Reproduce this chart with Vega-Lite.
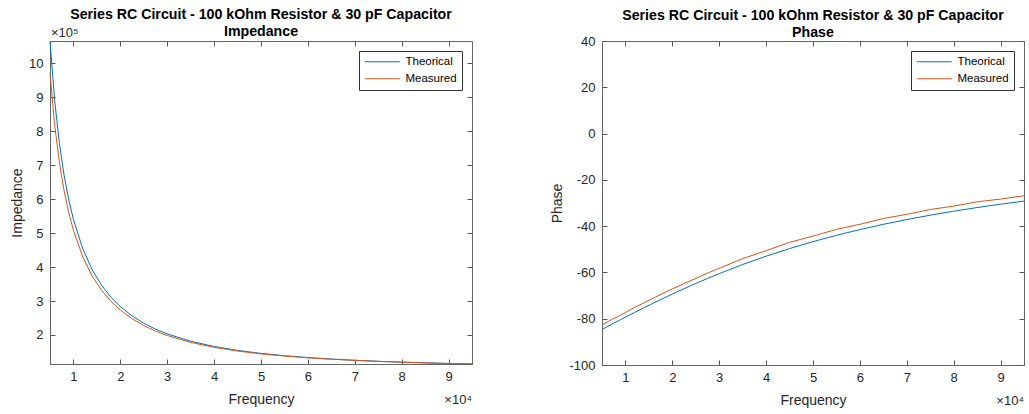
{
  "$schema": "https://vega.github.io/schema/vega-lite/v6.json",
  "padding": {"left": 10, "top": 7, "right": 5, "bottom": 5},
  "spacing": 75,
  "datasets": {
    "imp": [
      {"f": 5000, "Z": 1065735, "s": "Theorical"},
      {"f": 6000, "Z": 889831, "s": "Theorical"},
      {"f": 7000, "Z": 764449, "s": "Theorical"},
      {"f": 8000, "Z": 670642, "s": "Theorical"},
      {"f": 9000, "Z": 597884, "s": "Theorical"},
      {"f": 10000, "Z": 539858, "s": "Theorical"},
      {"f": 12000, "Z": 453266, "s": "Theorical"},
      {"f": 14000, "Z": 391914, "s": "Theorical"},
      {"f": 16000, "Z": 346324, "s": "Theorical"},
      {"f": 18000, "Z": 311234, "s": "Theorical"},
      {"f": 20000, "Z": 283482, "s": "Theorical"},
      {"f": 22500, "Z": 256114, "s": "Theorical"},
      {"f": 25000, "Z": 234588, "s": "Theorical"},
      {"f": 27500, "Z": 217293, "s": "Theorical"},
      {"f": 30000, "Z": 203155, "s": "Theorical"},
      {"f": 35000, "Z": 181591, "s": "Theorical"},
      {"f": 40000, "Z": 166104, "s": "Theorical"},
      {"f": 45000, "Z": 154592, "s": "Theorical"},
      {"f": 50000, "Z": 145801, "s": "Theorical"},
      {"f": 55000, "Z": 138939, "s": "Theorical"},
      {"f": 60000, "Z": 133484, "s": "Theorical"},
      {"f": 65000, "Z": 129080, "s": "Theorical"},
      {"f": 70000, "Z": 125474, "s": "Theorical"},
      {"f": 75000, "Z": 122489, "s": "Theorical"},
      {"f": 80000, "Z": 119990, "s": "Theorical"},
      {"f": 85000, "Z": 117879, "s": "Theorical"},
      {"f": 90000, "Z": 116080, "s": "Theorical"},
      {"f": 95000, "Z": 114536, "s": "Theorical"},
      {"f": 5000, "Z": 969819, "s": "Measured"},
      {"f": 6000, "Z": 818645, "s": "Measured"},
      {"f": 7000, "Z": 708644, "s": "Measured"},
      {"f": 8000, "Z": 625038, "s": "Measured"},
      {"f": 9000, "Z": 560217, "s": "Measured"},
      {"f": 10000, "Z": 508006, "s": "Measured"},
      {"f": 12000, "Z": 429696, "s": "Measured"},
      {"f": 14000, "Z": 373494, "s": "Measured"},
      {"f": 16000, "Z": 331432, "s": "Measured"},
      {"f": 18000, "Z": 299096, "s": "Measured"},
      {"f": 20000, "Z": 273277, "s": "Measured"},
      {"f": 22500, "Z": 247918, "s": "Measured"},
      {"f": 25000, "Z": 227785, "s": "Measured"},
      {"f": 27500, "Z": 211643, "s": "Measured"},
      {"f": 30000, "Z": 198482, "s": "Measured"},
      {"f": 35000, "Z": 178141, "s": "Measured"},
      {"f": 40000, "Z": 163612, "s": "Measured"},
      {"f": 45000, "Z": 152737, "s": "Measured"},
      {"f": 50000, "Z": 144489, "s": "Measured"},
      {"f": 55000, "Z": 137966, "s": "Measured"},
      {"f": 60000, "Z": 132817, "s": "Measured"},
      {"f": 65000, "Z": 128564, "s": "Measured"},
      {"f": 70000, "Z": 125098, "s": "Measured"},
      {"f": 75000, "Z": 122244, "s": "Measured"},
      {"f": 80000, "Z": 119870, "s": "Measured"},
      {"f": 85000, "Z": 117761, "s": "Measured"},
      {"f": 90000, "Z": 116080, "s": "Measured"},
      {"f": 95000, "Z": 114600, "s": "Measured"}
    ],
    "ph": [
      {"f": 5000, "P": -84.616, "s": "Theorical"},
      {"f": 6000, "P": -83.547, "s": "Theorical"},
      {"f": 7000, "P": -82.483, "s": "Theorical"},
      {"f": 8000, "P": -81.425, "s": "Theorical"},
      {"f": 9000, "P": -80.372, "s": "Theorical"},
      {"f": 10000, "P": -79.325, "s": "Theorical"},
      {"f": 12000, "P": -77.254, "s": "Theorical"},
      {"f": 14000, "P": -75.217, "s": "Theorical"},
      {"f": 16000, "P": -73.217, "s": "Theorical"},
      {"f": 18000, "P": -71.258, "s": "Theorical"},
      {"f": 20000, "P": -69.344, "s": "Theorical"},
      {"f": 22500, "P": -67.017, "s": "Theorical"},
      {"f": 25000, "P": -64.768, "s": "Theorical"},
      {"f": 27500, "P": -62.599, "s": "Theorical"},
      {"f": 30000, "P": -60.512, "s": "Theorical"},
      {"f": 35000, "P": -56.584, "s": "Theorical"},
      {"f": 40000, "P": -52.984, "s": "Theorical"},
      {"f": 45000, "P": -49.693, "s": "Theorical"},
      {"f": 50000, "P": -46.695, "s": "Theorical"},
      {"f": 55000, "P": -43.967, "s": "Theorical"},
      {"f": 60000, "P": -41.483, "s": "Theorical"},
      {"f": 65000, "P": -39.221, "s": "Theorical"},
      {"f": 70000, "P": -37.157, "s": "Theorical"},
      {"f": 75000, "P": -35.272, "s": "Theorical"},
      {"f": 80000, "P": -33.55, "s": "Theorical"},
      {"f": 85000, "P": -31.97, "s": "Theorical"},
      {"f": 90000, "P": -30.518, "s": "Theorical"},
      {"f": 95000, "P": -29.18, "s": "Theorical"},
      {"f": 5000, "P": -82.72, "s": "Measured"},
      {"f": 6000, "P": -81.6, "s": "Measured"},
      {"f": 7000, "P": -80.45, "s": "Measured"},
      {"f": 8000, "P": -79.43, "s": "Measured"},
      {"f": 9000, "P": -78.45, "s": "Measured"},
      {"f": 10000, "P": -77.33, "s": "Measured"},
      {"f": 12000, "P": -75.05, "s": "Measured"},
      {"f": 14000, "P": -73.12, "s": "Measured"},
      {"f": 16000, "P": -71.12, "s": "Measured"},
      {"f": 18000, "P": -69.0, "s": "Measured"},
      {"f": 20000, "P": -67.14, "s": "Measured"},
      {"f": 22500, "P": -64.82, "s": "Measured"},
      {"f": 25000, "P": -62.6, "s": "Measured"},
      {"f": 27500, "P": -60.3, "s": "Measured"},
      {"f": 30000, "P": -58.21, "s": "Measured"},
      {"f": 35000, "P": -54.05, "s": "Measured"},
      {"f": 40000, "P": -50.6, "s": "Measured"},
      {"f": 45000, "P": -47.0, "s": "Measured"},
      {"f": 50000, "P": -44.3, "s": "Measured"},
      {"f": 55000, "P": -41.4, "s": "Measured"},
      {"f": 60000, "P": -39.2, "s": "Measured"},
      {"f": 65000, "P": -36.7, "s": "Measured"},
      {"f": 70000, "P": -34.9, "s": "Measured"},
      {"f": 75000, "P": -32.8, "s": "Measured"},
      {"f": 80000, "P": -31.35, "s": "Measured"},
      {"f": 85000, "P": -29.5, "s": "Measured"},
      {"f": 90000, "P": -28.3, "s": "Measured"},
      {"f": 95000, "P": -26.88, "s": "Measured"}
    ],
    "one": [{"k": 1}]
  },
  "resolve": {"legend": {"color": "independent"}},
  "hconcat": [
    {
      "width": 422,
      "height": 323,
      "title": {"text": ["Series RC Circuit - 100 kOhm Resistor & 30 pF Capacitor", "Impedance"], "offset": -12},
      "resolve": {"axis": {"x": "independent", "y": "independent"}},
      "layer": [
        {
          "data": {"name": "imp"},
          "mark": {"type": "line", "strokeWidth": 1},
          "encoding": {
            "x": {"field": "f", "type": "quantitative", "title": "Frequency",
                  "scale": {"domain": [5000, 95000], "nice": false, "zero": false},
                  "axis": {"values": [10000, 20000, 30000, 40000, 50000, 60000, 70000, 80000, 90000], "labelExpr": "'' + (datum.value / 10000)"}},
            "y": {"field": "Z", "type": "quantitative", "title": "Impedance",
                  "scale": {"domain": [114536, 1065735], "nice": false, "zero": false},
                  "axis": {"values": [200000, 300000, 400000, 500000, 600000, 700000, 800000, 900000, 1000000], "labelExpr": "'' + (datum.value / 100000)"}},
            "color": {"field": "s", "type": "nominal",
                      "scale": {"domain": ["Theorical", "Measured"], "range": ["#0072BD", "#D95319"]},
                      "legend": {"title": null}}
          }
        },
        {
          "data": {"name": "imp"},
          "mark": {"type": "line", "strokeOpacity": 0},
          "encoding": {
            "x": {"field": "f", "type": "quantitative",
                  "axis": {"orient": "top", "labels": false, "domain": false, "title": null, "labelPadding": 0, "titlePadding": 0, "values": [10000, 20000, 30000, 40000, 50000, 60000, 70000, 80000, 90000]}},
            "y": {"field": "Z", "type": "quantitative",
                  "axis": {"orient": "right", "labels": false, "domain": false, "title": null, "labelPadding": 0, "titlePadding": 0, "values": [200000, 300000, 400000, 500000, 600000, 700000, 800000, 900000, 1000000]}}
          }
        },
        {
          "data": {"name": "one"},
          "mark": {"type": "text", "text": "×10⁵", "align": "left", "baseline": "alphabetic", "dy": -4, "dx": 1, "fontSize": 13, "color": "#262626"},
          "encoding": {
            "x": {"datum": 5000, "axis": null},
            "y": {"datum": 1065735, "axis": null}
          }
        },
        {
          "data": {"name": "one"},
          "mark": {"type": "text", "text": "×10⁴", "align": "right", "baseline": "alphabetic", "dy": 40, "fontSize": 13, "color": "#262626"},
          "encoding": {
            "x": {"datum": 95000, "axis": null},
            "y": {"datum": 114536, "axis": null}
          }
        }
      ]
    },
    {
      "width": 422,
      "height": 324,
      "title": {"text": ["Series RC Circuit - 100 kOhm Resistor & 30 pF Capacitor", "Phase"], "offset": -5},
      "resolve": {"axis": {"x": "independent", "y": "independent"}},
      "layer": [
        {
          "data": {"name": "ph"},
          "mark": {"type": "line", "strokeWidth": 1},
          "encoding": {
            "x": {"field": "f", "type": "quantitative", "title": "Frequency",
                  "scale": {"domain": [5000, 95000], "nice": false, "zero": false},
                  "axis": {"values": [10000, 20000, 30000, 40000, 50000, 60000, 70000, 80000, 90000], "labelExpr": "'' + (datum.value / 10000)"}},
            "y": {"field": "P", "type": "quantitative", "title": "Phase",
                  "scale": {"domain": [-100, 40], "nice": false, "zero": false},
                  "axis": {"values": [-100, -80, -60, -40, -20, 0, 20, 40], "labelExpr": "'' + datum.value"}},
            "color": {"field": "s", "type": "nominal",
                      "scale": {"domain": ["Theorical", "Measured"], "range": ["#0072BD", "#D95319"]},
                      "legend": {"title": null}}
          }
        },
        {
          "data": {"name": "ph"},
          "mark": {"type": "line", "strokeOpacity": 0},
          "encoding": {
            "x": {"field": "f", "type": "quantitative",
                  "axis": {"orient": "top", "labels": false, "domain": false, "title": null, "labelPadding": 0, "titlePadding": 0, "values": [10000, 20000, 30000, 40000, 50000, 60000, 70000, 80000, 90000]}},
            "y": {"field": "P", "type": "quantitative",
                  "axis": {"orient": "right", "labels": false, "domain": false, "title": null, "labelPadding": 0, "titlePadding": 0, "values": [-100, -80, -60, -40, -20, 0, 20, 40]}}
          }
        },
        {
          "data": {"name": "one"},
          "mark": {"type": "text", "text": "×10⁴", "align": "right", "baseline": "alphabetic", "dy": 40, "fontSize": 13, "color": "#262626"},
          "encoding": {
            "x": {"datum": 95000, "axis": null},
            "y": {"datum": -100, "axis": null}
          }
        }
      ]
    }
  ],
  "config": {
    "font": "Liberation Sans",
    "view": {"stroke": "#666", "strokeWidth": 1},
    "axis": {
      "labelFont": "Liberation Sans",
      "labelFontSize": 13,
      "labelColor": "#262626",
      "titleFont": "Liberation Sans",
      "titleFontSize": 14,
      "titleFontWeight": "normal",
      "titleColor": "#262626",
      "domainColor": "#666",
      "tickColor": "#555",
      "tickSize": -5,
      "grid": false,
      "labelPadding": 12,
      "titlePadding": 4
    },
    "axisX": {"labelPadding": 11, "titlePadding": 9},
    "legend": {
      "orient": "top-right",
      "offset": 10,
      "strokeColor": "#333",
      "fillColor": "#ffffff",
      "padding": 5,
      "labelFont": "Liberation Sans",
      "labelFontSize": 11.5,
      "labelColor": "#000",
      "labelAlign": "left",
      "symbolType": "M-3.5,0H3.5",
      "symbolSize": 100,
      "symbolOffset": 12.5,
      "symbolStrokeWidth": 1,
      "rowPadding": 4,
      "labelOffset": 17.5,
      "cornerRadius": 0
    },
    "title": {
      "font": "Liberation Sans",
      "fontSize": 14.2,
      "fontWeight": "bold",
      "color": "#000",
      "lineHeight": 17,
      "frame": "group",
      "anchor": "middle"
    }
  }
}
